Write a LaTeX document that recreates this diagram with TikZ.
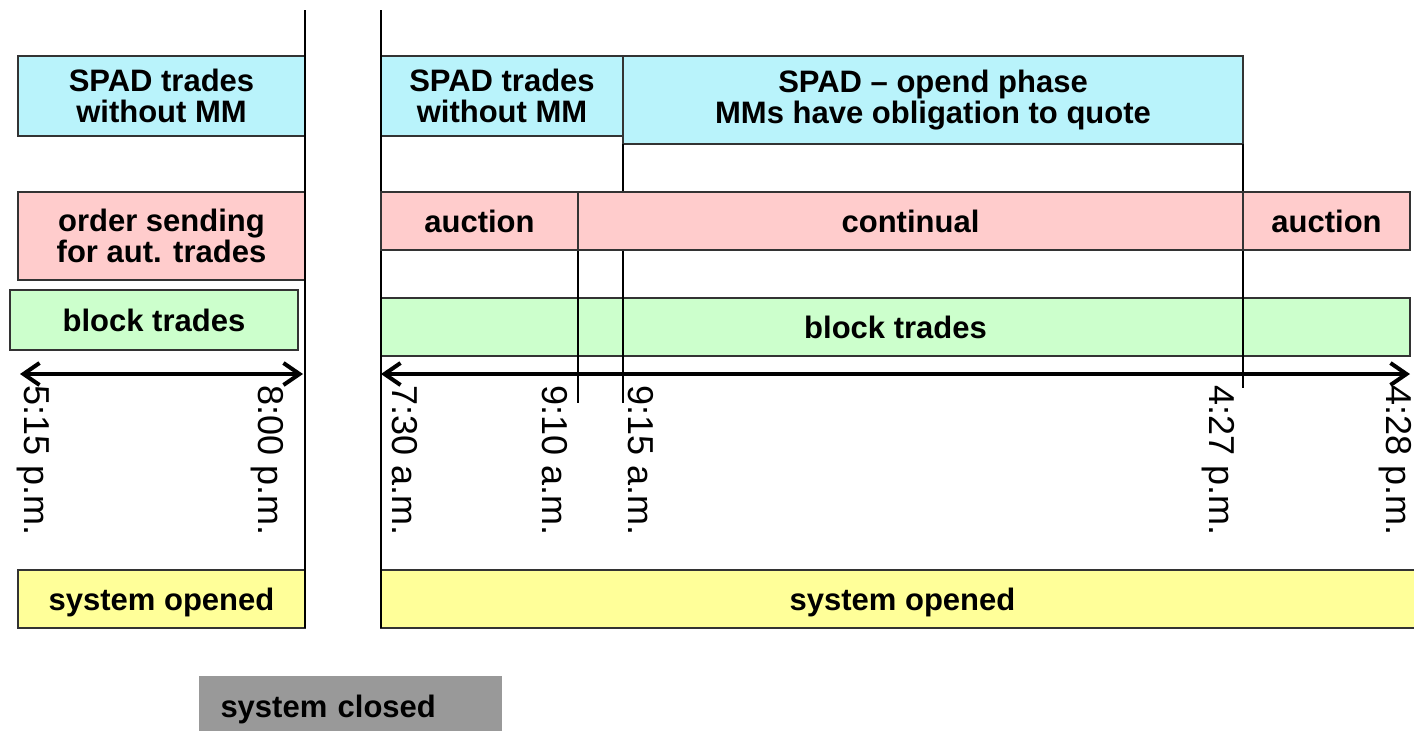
\documentclass[tikz,border=0pt]{standalone}
\usepackage{fontspec}
\setmainfont{Liberation Sans}
\usetikzlibrary{positioning,arrows.meta}
\definecolor{spadcyan}{RGB}{185,243,251}
\definecolor{orderpink}{RGB}{255,204,204}
\definecolor{blockgreen}{RGB}{204,255,204}
\definecolor{openyellow}{RGB}{255,255,153}
\definecolor{closedgray}{RGB}{153,153,153}
\tikzset{phasebox/.style={rectangle, draw=black!80, line width=1pt, inner sep=0pt,
align=center, font=\bfseries\fontsize{15.5}{15.5}\selectfont},
spad/.style={phasebox, fill=spadcyan},
order/.style={phasebox, fill=orderpink},
block/.style={phasebox, fill=blockgreen},
sysopen/.style={phasebox, fill=openyellow, text depth=0pt},
sysclosed/.style={phasebox, draw=none, fill=closedgray, text width=130pt, align=left},
clock/.style={rotate=-90, anchor=west, inner sep=0pt, font=\fontsize{18}{18}\selectfont},
guide/.style={line width=1pt},
axis/.style={line width=2pt, <->},
>={Straight Barb[length=8pt,width=11pt]}}
% name, style, left, top, right, bottom, text (picture pixels)
\newcommand{\phasenode}[7]{
\node (#1) [#2, minimum width=(#5-#3)*0.5pt, minimum height=(#6-#4)*0.5pt]
  at ({(#3+#5)/2},{(#4+#6)/2}) {#7};
}
\newcommand{\clocknode}[3]{
\coordinate (#1) at (#2,374);
\node (lbl#1) [clock] at (#2-23,385) {#3};
}

\begin{document}
\begin{tikzpicture}[x=0.5pt,y=-0.5pt]
    \useasboundingbox (0,0) rectangle (1414,730);
    \clip (0,0) rectangle (1414,730);

    % evening session
    \phasenode{spad_eve}{spad}{18}{56}{305}{136}{SPAD trades\\without MM}
    \phasenode{order_eve}{order}{18}{192}{305}{280}{order sending\\for aut. trades}
    \phasenode{block_eve}{block}{10}{290}{298}{350}{block trades}
    \phasenode{open_eve}{sysopen}{18}{570}{305}{628}{system opened}

    % day session
    \phasenode{spad_day}{spad}{381}{56}{623}{136}{SPAD trades\\without MM}
    \phasenode{spad_mm}{spad}{623}{56}{1243}{144}{SPAD -- opend phase\\MMs have obligation to quote}
    \phasenode{block_day}{block}{381}{298}{1410}{356}{block trades}
    \phasenode{open_day}{sysopen}{381}{570}{1424}{628}{system opened}

    \phasenode{closed}{sysclosed}{199}{676}{502}{742}{system closed}

    % time axis
    \coordinate (e_top) at (305,10);
    \coordinate (e_bot) at (305,628);
    \coordinate (d_top) at (381,10);
    \coordinate (d_bot) at (381,628);
    \coordinate (a_left) at (20,374);
    \coordinate (a_right) at (303,374);
    \coordinate (b_left) at (381,374);
    \coordinate (b_right) at (1410,374);
    \coordinate (g910_top) at (578,250);
    \coordinate (g910_bot) at (578,403);
    \coordinate (g915_top) at (623,144);
    \coordinate (g915_mid) at (623,192);
    \coordinate (g915_low) at (623,250);
    \coordinate (g915_bot) at (623,403);
    \coordinate (g427_top) at (1243,144);
    \coordinate (g427_bot) at (1243,388);

    \clocknode{t515}{56}{5:15 p.m.}
    \clocknode{t800}{290}{8:00 p.m.}
    \clocknode{t730}{428}{7:30 a.m.}
    \clocknode{t910}{578}{9:10 a.m.}
    \clocknode{t915}{664}{9:15 a.m.}
    \clocknode{t427}{1241}{4:27 p.m.}
    \clocknode{t428}{1418}{4:28 p.m.}

    \draw [guide] (e_top) -- (e_bot);
    \draw [guide] (d_top) -- (d_bot);
    \draw [guide] (g910_top) -- (g910_bot);
    \draw [guide] (g915_top) -- (g915_mid);
    \draw [guide] (g915_low) -- (g915_bot);
    \draw [guide] (g427_top) -- (g427_bot);

    \phasenode{auct_open}{order}{381}{192}{578}{250}{auction}
    \phasenode{continual}{order}{578}{192}{1243}{250}{continual}
    \phasenode{auct_close}{order}{1243}{192}{1410}{250}{auction}

    \draw [axis] (a_left) -- (a_right);
    \draw [axis] (b_left) -- (b_right);

\end{tikzpicture}
\end{document}
